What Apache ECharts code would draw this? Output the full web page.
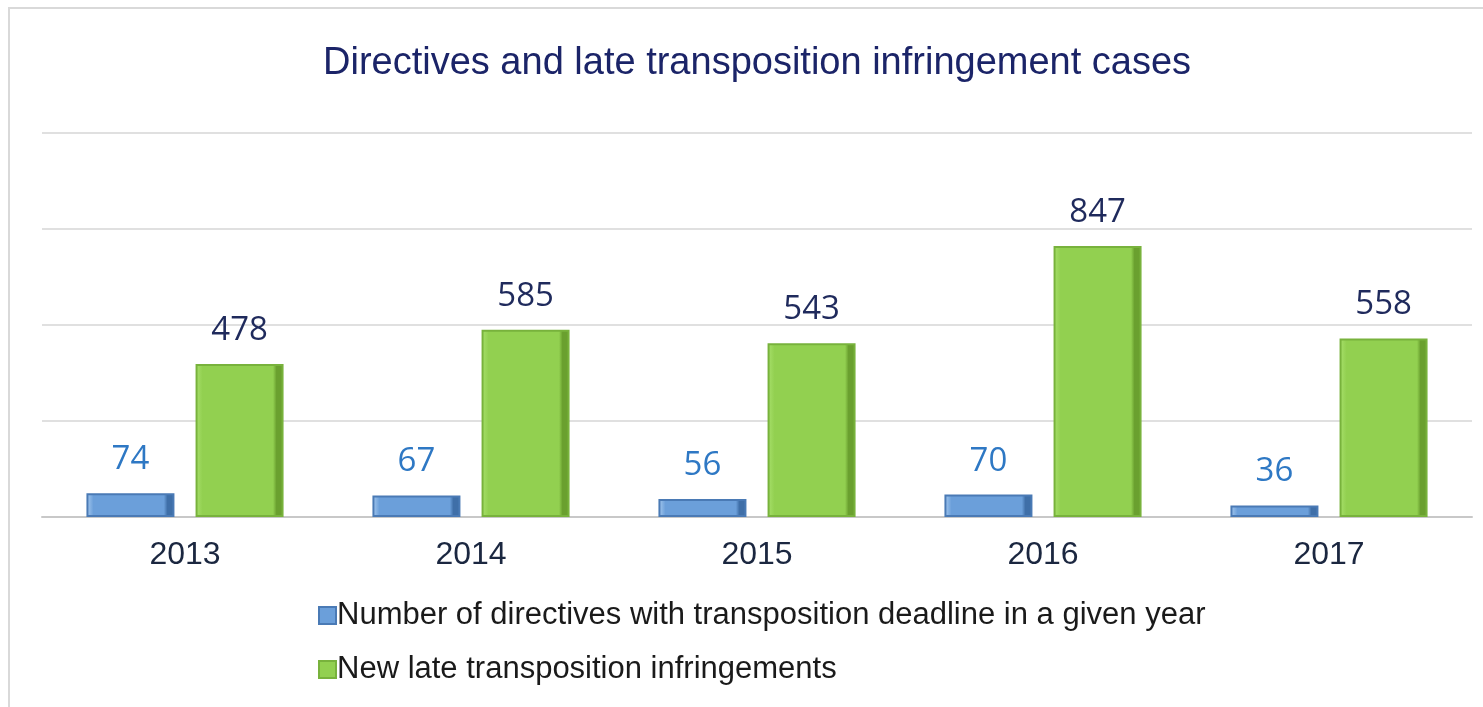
<!DOCTYPE html>
<html>
<head>
<meta charset="utf-8">
<script src="https://cdn.jsdelivr.net/npm/echarts@6/dist/echarts.min.js"></script>
<style>
  html, body { margin: 0; padding: 0; background: #fff; }
  #chart { width: 1483px; height: 707px; }
</style>
</head>
<body>
<div id="chart"></div>
<script>
var years = ['2013', '2014', '2015', '2016', '2017'];
var directives = [74, 67, 56, 70, 36];
var lateCases = [478, 585, 543, 847, 558];
var seriesNames = [
    'Number of directives with transposition deadline in a given year',
    'New late transposition infringements'
];
var yTicks = [0, 300, 600, 900, 1200];

var myChart = echarts.init(document.getElementById('chart'));

// bevel-ish fill, light left edge, dark right edge
function barFill(light, mid, dark) {
    return new echarts.graphic.LinearGradient(0, 0, 1, 0, [
        { offset: 0, color: light },
        { offset: 0.08, color: mid },
        { offset: 0.88, color: mid },
        { offset: 0.92, color: dark },
        { offset: 1, color: dark }
    ]);
}

var option = {
    backgroundColor: '#fff',
    title: {
        text: 'Directives and late transposition infringement cases',
        left: 318,
        top: 40,
        textStyle: {
            fontFamily: 'Liberation Sans',
            fontSize: 38,
            fontWeight: 'normal',
            color: '#1b2468'
        }
    },
    graphic: [{
        type: 'rect',
        shape: { x: 9, y: 8, width: 1500, height: 720 },
        style: { fill: 'none', stroke: '#d9d9d9', lineWidth: 2 },
        silent: true
    }],
    legend: {
        orient: 'vertical',
        left: 313,
        top: 595,
        itemWidth: 17,
        itemHeight: 17,
        itemGap: 23,
        icon: 'rect',
        textStyle: {
            fontFamily: 'Liberation Sans',
            fontSize: 31,
            color: '#1a1a1a',
            padding: [0, 0, 0, -4]
        },
        data: seriesNames
    },
    grid: {
        left: 42,
        right: 11,
        top: 133,
        bottom: 190,
        containLabel: false
    },
    xAxis: {
        type: 'category',
        data: years,
        axisLine: { lineStyle: { color: '#c8c8c8', width: 2 } },
        axisTick: { show: false },
        axisLabel: {
            margin: 22,
            fontFamily: 'Liberation Sans',
            fontSize: 32,
            color: '#1b2740'
        }
    },
    yAxis: {
        type: 'value',
        min: yTicks[0],
        max: yTicks[yTicks.length - 1],
        interval: 300,
        axisLabel: { show: false },
        axisLine: { show: false },
        axisTick: { show: false },
        splitLine: { lineStyle: { color: '#e0e0e0', width: 2 } }
    },
    series: [{
        name: seriesNames[0],
        type: 'bar',
        data: directives,
        barWidth: 88,
        barGap: '24%',
        itemStyle: {
            color: barFill('#a9cbef', '#6b9fda', '#3f6fa8'),
            borderColor: '#4a7ab5',
            borderWidth: 2
        },
        label: {
            show: true,
            position: 'top',
            distance: 17,
            fontFamily: 'Open Sans',
            fontSize: 33,
            color: '#2e78c4'
        }
    }, {
        name: seriesNames[1],
        type: 'bar',
        data: lateCases,
        barWidth: 88,
        itemStyle: {
            color: barFill('#a8e06c', '#92d050', '#6aa02f'),
            borderColor: '#78b23c',
            borderWidth: 2
        },
        label: {
            show: true,
            position: 'top',
            distance: 17,
            fontFamily: 'Open Sans',
            fontSize: 33,
            color: '#1f2a5c'
        }
    }]
};

myChart.setOption(option);
</script>
</body>
</html>
